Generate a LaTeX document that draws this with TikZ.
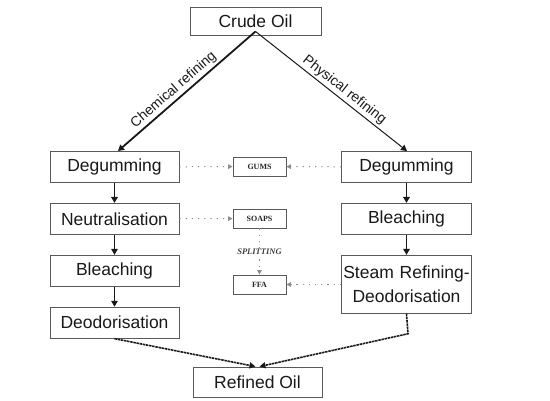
\documentclass[tikz,border=0pt]{standalone}
\usepackage{fontspec}
\setmainfont{Liberation Sans}
\newfontfamily\smallserif{Liberation Serif}
\usetikzlibrary{arrows.meta,positioning,calc}

\tikzset{
	stepbox/.style={draw=black!65,line width=0.9pt,minimum width=129pt,minimum height=31pt,inner sep=1pt,font=\fontsize{17.5}{19}\selectfont,text=black!90,align=center},
	sidebox/.style={draw=black!65,line width=0.8pt,minimum width=53pt,minimum height=19pt,inner sep=1pt,font=\smallserif\bfseries\fontsize{8}{9}\selectfont,text=black!85},
	flow/.style={-{Triangle[length=6pt,width=6.5pt]},line width=1.8pt,black!90},
	byproduct/.style={-{Triangle[length=4.5pt,width=4.5pt]},dash pattern=on 1.2pt off 5pt,line width=1pt,black!45},
	merge/.style={-{Triangle[length=6pt,width=6pt]},dash pattern=on 2.5pt off 0.7pt,line width=1.6pt,black!90},
	pathlabel/.style={midway,above,sloped,inner sep=2pt,font=\fontsize{14}{15}\selectfont,text=black!90},
}

\begin{document}
\begin{tikzpicture}[x=1pt,y=-1pt]
	\useasboundingbox (0,0) rectangle (550,400);
	% main line
	\node[stepbox,minimum height=28pt,minimum width=131pt] (crude) at (255.5,21) {Crude Oil};
	\node[stepbox,minimum height=30pt] (refined) at (257.5,382) {Refined Oil};
	% chemical refining
	\node[stepbox] (degL) at (114.5,167) {Degumming};
	\node[stepbox,below=20pt of degL] (neut) {Neutralisation};
	\node[stepbox,below=20pt of neut] (bleachL) {Bleaching};
	\node[stepbox,below=20pt of bleachL] (deodL) {Deodorisation};
	% physical refining
	\node[stepbox,minimum width=130pt] (degR) at (406.5,167) {Degumming};
	\node[stepbox,minimum width=130pt,below=20pt of degR] (bleachR) {Bleaching};
	\node[stepbox,minimum width=130pt,minimum height=58pt,below=20pt of bleachR,text width=128pt,font=\fontsize{17.5}{24}\selectfont] (steam) {Steam Refining-\\Deodorisation};
	% by-products
	\node[sidebox] (gums) at (259.5,166.5) {GUMS};
	\node[sidebox] (soaps) at (259.5,218.5) {SOAPS};
	\node[sidebox] (ffa) at (259.5,284.5) {FFA};
	\coordinate (bend) at ($(steam.south)+(1.5,20)$);

	\draw[flow] ([yshift=4pt]crude.south) -- node[pathlabel,pos=0.55]{Chemical refining} ([xshift=3.5pt]degL.north);
	\draw[flow,line width=1pt] ([yshift=4pt]crude.south) -- node[pathlabel,pos=0.55]{Physical refining} ([xshift=0.5pt]degR.north);
	\foreach \a/\b in {degL/neut,neut/bleachL,bleachL/deodL,degR/bleachR,bleachR/steam}
		\draw[flow] (\a) -- (\b);
	\draw[byproduct] (degL) -- (gums);
	\draw[byproduct] (degR) -- (gums);
	\draw[byproduct] (neut) -- (soaps);
	\draw[byproduct] (steam.west |- ffa) -- (ffa);
	\draw[byproduct] (soaps) -- node[fill=white,inner sep=1pt,font=\smallserif\bfseries\itshape\fontsize{8.5}{9}\selectfont,text=black!75]{SPLITTING} (ffa);
	\draw[merge] (deodL.south) -- ([xshift=-2pt]refined.north);
	\draw[merge] (steam.south) -- (bend) -- ([xshift=2pt]refined.north);
\end{tikzpicture}
\end{document}
